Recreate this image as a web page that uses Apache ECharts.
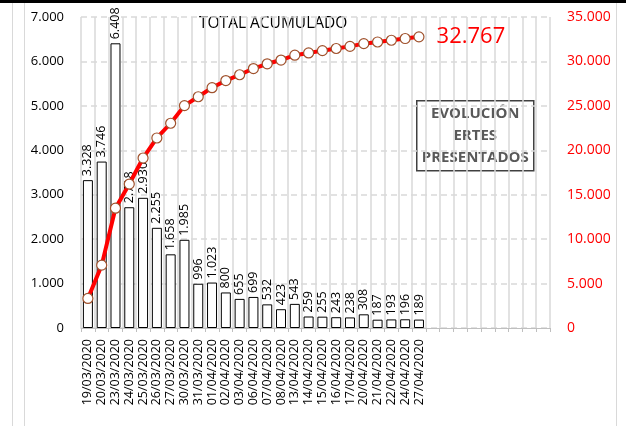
<!DOCTYPE html>
<html>
<head>
<meta charset="utf-8">
<script src="https://cdn.jsdelivr.net/npm/echarts@6/dist/echarts.min.js"></script>
<style>
  html, body { margin: 0; padding: 0; background: #fff; }
  #chart { width: 626px; height: 426px; }
</style>
</head>
<body>
<div id="chart"></div>
<script>
var fechas = ['19/03/2020', '20/03/2020', '23/03/2020', '24/03/2020', '25/03/2020',
    '26/03/2020', '27/03/2020', '30/03/2020', '31/03/2020', '01/04/2020',
    '02/04/2020', '03/04/2020', '06/04/2020', '07/04/2020', '08/04/2020',
    '13/04/2020', '14/04/2020', '15/04/2020', '16/04/2020', '17/04/2020',
    '20/04/2020', '21/04/2020', '22/04/2020', '24/04/2020', '27/04/2020'];
var diarios = [3328, 3746, 6408, 2718, 2930, 2255, 1658, 1985, 996, 1023,
    800, 655, 699, 532, 423, 543, 259, 255, 243, 238, 308, 187, 193, 196, 189];
var acumulado = [3328, 7074, 13482, 16200, 19130, 21385, 23043, 25028, 26024, 27047,
    27847, 28502, 29201, 29733, 30156, 30699, 30958, 31213, 31456, 31694,
    32002, 32189, 32382, 32578, 32767];
var huecos = 9; // empty slots at the right of the axis

function fmt(v) {
    return String(v).replace(/\B(?=(\d{3})+(?!\d))/g, '.');
}

var cats = fechas.slice();
for (var i = 0; i < huecos; i++) cats.push('');

var lineData = acumulado.map(function (v, i) {
    if (i === acumulado.length - 1) {
        return {
            value: v,
            label: {
                show: true,
                position: 'right',
                distance: 12,
                formatter: function (p) { return fmt(p.value); },
                color: '#ff0000',
                fontSize: 22,
                fontFamily: 'Open Sans'
            }
        };
    }
    return v;
});

var option = {
    animation: false,
    textStyle: {fontFamily: 'Open Sans'},
    grid: {left: 81, right: 76, top: 17, bottom: 98},
    graphic: [
        {type: 'rect', shape: {x: 0, y: 0, width: 626, height: 3}, style: {fill: '#000'}},
        {type: 'line', shape: {x1: 12.5, y1: 3, x2: 12.5, y2: 426}, style: {stroke: '#d9d9d9', lineWidth: 1}},
        {type: 'line', shape: {x1: 24.5, y1: 3, x2: 24.5, y2: 426}, style: {stroke: '#d9d9d9', lineWidth: 1}},
        {type: 'line', shape: {x1: 616.5, y1: 3, x2: 616.5, y2: 426}, style: {stroke: '#d9d9d9', lineWidth: 1}},
        {
            type: 'text', left: 199, top: 16,
            style: {text: 'TOTAL ACUMULADO', fontSize: 15.5, fill: '#000', fontFamily: 'Open Sans'}
        },
        {
            type: 'group', left: 416, top: 100,
            children: [
                {type: 'rect', shape: {x: 0, y: 0, width: 117, height: 70},
                    style: {fill: '#fff', stroke: '#404040', lineWidth: 1.5}},
                {type: 'text', x: 58.5, y: 35,
                    style: {text: 'EVOLUCIÓN\nERTES\nPRESENTADOS', align: 'center', verticalAlign: 'middle',
                        fontSize: 15, fontWeight: 'bold', lineHeight: 22, fill: '#595959', fontFamily: 'Open Sans'}}
            ]
        }
    ],
    xAxis: {
        type: 'category',
        data: cats,
        boundaryGap: true,
        axisLine: {lineStyle: {color: '#bfbfbf'}},
        axisTick: {show: true, length: 4, lineStyle: {color: '#bfbfbf'}},
        axisLabel: {rotate: 90, interval: 0, fontSize: 12.5, color: '#000', margin: 11},
        splitLine: {show: true, interval: 0, lineStyle: {color: '#d9d9d9', width: 1.5}}
    },
    yAxis: [
        {
            type: 'value', min: 0, max: 7000, interval: 1000,
            axisLine: {show: false}, axisTick: {show: false},
            axisLabel: {fontSize: 13, color: '#000', margin: 17, formatter: fmt},
            splitLine: {lineStyle: {color: '#d9d9d9', type: [6, 4], width: 1.5}}
        },
        {
            type: 'value', min: 0, max: 35000, interval: 5000,
            axisLine: {show: false}, axisTick: {show: false},
            axisLabel: {fontSize: 14, color: '#ff0000', margin: 17, formatter: fmt},
            splitLine: {show: false}
        }
    ],
    series: [
        {
            type: 'bar',
            data: diarios,
            barWidth: 10,
            itemStyle: {color: '#fff', borderColor: '#000', borderWidth: 1},
            label: {
                show: true, position: 'top', rotate: 90, align: 'left', verticalAlign: 'middle',
                distance: 4, fontSize: 12.5, color: '#000', formatter: function (p) { return fmt(p.value); }
            },
            z: 2
        },
        {
            type: 'line',
            yAxisIndex: 1,
            data: lineData,
            symbol: 'circle',
            symbolSize: 10,
            lineStyle: {color: '#ff0000', width: 4},
            itemStyle: {color: '#fff', borderColor: '#a0522d', borderWidth: 1.2},
            z: 3
        }
    ]
};

var myChart = echarts.init(document.getElementById('chart'));
myChart.setOption(option);
</script>
</body>
</html>
